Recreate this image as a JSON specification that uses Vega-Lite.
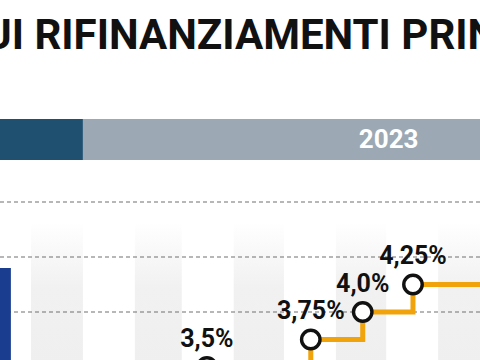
{
  "$schema": "https://vega.github.io/schema/vega-lite/v6.json",
  "width": 480,
  "height": 360,
  "padding": 0,
  "autosize": {"type": "none"},
  "background": "white",
  "config": {"view": {"stroke": null}},
  "datasets": {
    "tassi": [
      {"data": "2023-03-16", "tasso": 3.5, "etichetta": "3,5%"},
      {"data": "2023-05-17", "tasso": 3.75, "etichetta": "3,75%"},
      {"data": "2023-06-17", "tasso": 4.0, "etichetta": "4,0%"},
      {"data": "2023-07-17", "tasso": 4.25, "etichetta": "4,25%"},
      {"data": "2023-09-20", "tasso": 4.5, "etichetta": "4,5%"}
    ],
    "anni": [
      {"anno": "2022", "inizio": "2022-01-01", "fine": "2023-01-01"},
      {"anno": "2023", "inizio": "2023-01-01", "fine": "2024-01-01"}
    ],
    "mesi": [
      {"inizio": "2022-12-01", "fine": "2023-01-01"},
      {"inizio": "2023-02-01", "fine": "2023-03-01"},
      {"inizio": "2023-04-01", "fine": "2023-05-01"},
      {"inizio": "2023-06-01", "fine": "2023-07-01"},
      {"inizio": "2023-08-01", "fine": "2023-09-01"}
    ],
    "griglia": [{"g": 4.0}, {"g": 4.5}, {"g": 5.0}],
    "barre": [{"inizio": "2022-10-20", "fine": "2022-11-19", "valore": 4.4}],
    "titolo": [{"testo": "TASSI SUI RIFINANZIAMENTI PRINCIPALI"}]
  },
  "layer": [
    {
      "data": {"name": "mesi"},
      "mark": {"type": "rect", "clip": true, "color": {"gradient": "linear", "x1": 0, "y1": 0, "x2": 0, "y2": 1, "stops": [{"offset": 0, "color": "#ffffff"}, {"offset": 0.45, "color": "#f1f1f1"}, {"offset": 1, "color": "#efefef"}]}},
      "encoding": {
        "x": {"field": "inizio", "type": "temporal", "axis": null, "scale": {"type": "utc", "domain": [{"year": 2022, "month": 11, "date": 12, "hours": 12, "utc": true}, {"year": 2023, "month": 8, "date": 26, "utc": true}]}},
        "x2": {"field": "fine"},
        "y": {"datum": 4.818, "type": "quantitative", "axis": null, "scale": {"domain": [3.5636, 6.8364], "nice": false, "zero": false}},
        "y2": {"datum": 3.5}
      }
    },
    {
      "data": {"name": "griglia"},
      "mark": {"type": "rule", "color": "#707070", "strokeWidth": 1.2, "strokeDash": [4, 3]},
      "encoding": {
        "y": {"field": "g", "type": "quantitative", "axis": null, "scale": {"domain": [3.5636, 6.8364], "nice": false, "zero": false}}
      }
    },
    {
      "data": {"name": "barre"},
      "mark": {"type": "rect", "clip": true, "color": "#1b3d8f"},
      "encoding": {
        "x": {"field": "inizio", "type": "temporal", "axis": null, "scale": {"type": "utc", "domain": [{"year": 2022, "month": 11, "date": 12, "hours": 12, "utc": true}, {"year": 2023, "month": 8, "date": 26, "utc": true}]}},
        "x2": {"field": "fine"},
        "y": {"field": "valore", "type": "quantitative", "axis": null, "scale": {"domain": [3.5636, 6.8364], "nice": false, "zero": false}},
        "y2": {"datum": 3.0}
      }
    },
    {
      "data": {"name": "anni"},
      "mark": {"type": "rect", "clip": true},
      "encoding": {
        "x": {"field": "inizio", "type": "temporal", "axis": null, "scale": {"type": "utc", "domain": [{"year": 2022, "month": 11, "date": 12, "hours": 12, "utc": true}, {"year": 2023, "month": 8, "date": 26, "utc": true}]}},
        "x2": {"field": "fine"},
        "y": {"datum": 5.7545, "type": "quantitative", "axis": null, "scale": {"domain": [3.5636, 6.8364], "nice": false, "zero": false}},
        "y2": {"datum": 5.3818},
        "color": {"field": "anno", "type": "nominal", "legend": null, "scale": {"domain": ["2022", "2023"], "range": ["#1f5070", "#9ca8b4"]}}
      }
    },
    {
      "data": {"name": "anni"},
      "transform": [{"calculate": "(+toDate(datum.inizio) + +toDate(datum.fine)) / 2", "as": "mezzo"}],
      "mark": {"type": "text", "clip": true, "color": "white", "font": "Roboto", "fontWeight": "bold", "fontSize": 26, "baseline": "middle", "align": "center"},
      "encoding": {
        "x": {"field": "mezzo", "type": "temporal", "axis": null, "scale": {"type": "utc", "domain": [{"year": 2022, "month": 11, "date": 12, "hours": 12, "utc": true}, {"year": 2023, "month": 8, "date": 26, "utc": true}]}},
        "y": {"datum": 5.568, "type": "quantitative", "axis": null, "scale": {"domain": [3.5636, 6.8364], "nice": false, "zero": false}},
        "text": {"field": "anno"}
      }
    },
    {
      "data": {"name": "tassi"},
      "mark": {"type": "line", "clip": true, "interpolate": "step-after", "color": "#f0a30a", "strokeWidth": 5},
      "encoding": {
        "x": {"field": "data", "type": "temporal", "axis": null, "scale": {"type": "utc", "domain": [{"year": 2022, "month": 11, "date": 12, "hours": 12, "utc": true}, {"year": 2023, "month": 8, "date": 26, "utc": true}]}},
        "y": {"field": "tasso", "type": "quantitative", "axis": null, "scale": {"domain": [3.5636, 6.8364], "nice": false, "zero": false}}
      }
    },
    {
      "data": {"name": "tassi"},
      "mark": {"type": "point", "clip": true, "filled": true, "fill": "white", "stroke": "#111111", "strokeWidth": 3.4, "size": 340, "opacity": 1},
      "encoding": {
        "x": {"field": "data", "type": "temporal", "axis": null, "scale": {"type": "utc", "domain": [{"year": 2022, "month": 11, "date": 12, "hours": 12, "utc": true}, {"year": 2023, "month": 8, "date": 26, "utc": true}]}},
        "y": {"field": "tasso", "type": "quantitative", "axis": null, "scale": {"domain": [3.5636, 6.8364], "nice": false, "zero": false}}
      }
    },
    {
      "data": {"name": "tassi"},
      "mark": {"type": "text", "clip": true, "color": "#111111", "font": "Roboto", "fontWeight": "bold", "fontSize": 25, "baseline": "alphabetic", "align": "center", "dy": -20},
      "encoding": {
        "x": {"field": "data", "type": "temporal", "axis": null, "scale": {"type": "utc", "domain": [{"year": 2022, "month": 11, "date": 12, "hours": 12, "utc": true}, {"year": 2023, "month": 8, "date": 26, "utc": true}]}},
        "y": {"field": "tasso", "type": "quantitative", "axis": null, "scale": {"domain": [3.5636, 6.8364], "nice": false, "zero": false}},
        "text": {"field": "etichetta"}
      }
    },
    {
      "data": {"name": "titolo"},
      "mark": {"type": "text", "color": "#111111", "font": "Roboto", "fontWeight": "bold", "fontSize": 42, "baseline": "alphabetic", "align": "left"},
      "encoding": {
        "x": {"datum": {"year": 2022, "month": 8, "date": 4, "utc": true}, "type": "temporal", "axis": null, "scale": {"type": "utc", "domain": [{"year": 2022, "month": 11, "date": 12, "hours": 12, "utc": true}, {"year": 2023, "month": 8, "date": 26, "utc": true}]}},
        "y": {"datum": 6.3909, "type": "quantitative", "axis": null, "scale": {"domain": [3.5636, 6.8364], "nice": false, "zero": false}},
        "text": {"field": "testo"}
      }
    }
  ]
}
